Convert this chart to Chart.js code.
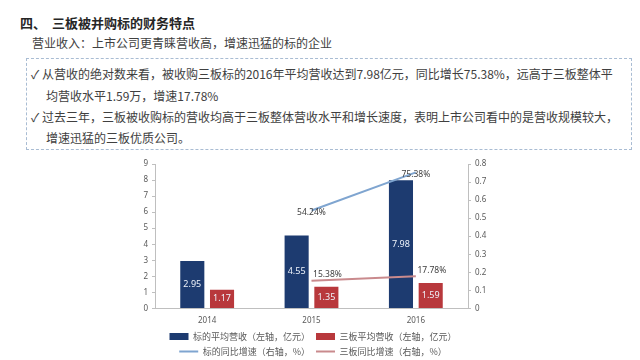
<!DOCTYPE html>
<html>
<head>
<meta charset="utf-8">
<script src="https://cdn.jsdelivr.net/npm/chart.js@4/dist/chart.umd.min.js"></script>
<style>
  body { margin: 0; width: 640px; height: 360px; background: #fff; position: relative; overflow: hidden;
         font-family: "Noto Sans CJK SC", "Noto Sans", sans-serif; }
  .title { position: absolute; left: 20px; top: 13px; font-size: 13px; font-weight: bold; color: #262626; white-space: nowrap; }
  .sub { position: absolute; left: 32px; top: 34px; font-size: 12px; color: #404040; white-space: nowrap; }
  .box { position: absolute; left: 26px; top: 58px; width: 606px; height: 92px; border: 1px dashed #a9bcd3; box-sizing: border-box; }
  .ln { position: absolute; font-size: 12px; color: #404040; white-space: nowrap; }
  #wrap { position: absolute; left: 118px; top: 155px; width: 390px; height: 211px; }
</style>
</head>
<body>
<div class="title">四、&nbsp;&nbsp;三板被并购标的财务特点</div>
<div class="sub">营业收入：上市公司更青睐营收高，增速迅猛的标的企业</div>
<div class="box"></div>
<div class="ln" style="left:31px;top:65px">✓ 从营收的绝对数来看，被收购三板标的2016年平均营收达到7.98亿元，同比增长75.38%，远高于三板整体平</div>
<div class="ln" style="left:46px;top:87px">均营收水平1.59万，增速17.78%</div>
<div class="ln" style="left:31px;top:108px">✓ 过去三年，三板被收购标的营收均高于三板整体营收水平和增长速度，表明上市公司看中的是营收规模较大，</div>
<div class="ln" style="left:46px;top:129px">增速迅猛的三板优质公司。</div>
<div id="wrap"><canvas id="myChart"></canvas></div>
<script>
const years = ["2014", "2015", "2016"];
const targetRevenue = [2.95, 4.55, 7.98];
const boardRevenue = [1.17, 1.35, 1.59];
const targetGrowth = [null, 0.5424, 0.7538];
const boardGrowth = [null, 0.1538, 0.1778];
const leftTicks = ["0", "1", "2", "3", "4", "5", "6", "7", "8", "9"];
const rightTicks = ["0", "0.1", "0.2", "0.3", "0.4", "0.5", "0.6", "0.7", "0.8"];

const valueLabels = {
  id: "valueLabels",
  afterDatasetsDraw(chart) {
    const ctx = chart.ctx;
    ctx.save();
    ctx.textAlign = "center";
    ctx.textBaseline = "middle";
    chart.data.datasets.forEach((ds, i) => {
      const meta = chart.getDatasetMeta(i);
      meta.data.forEach((el, j) => {
        const v = ds.data[j];
        if (v == null) return;
        if (ds.type === "bar") {
          ctx.font = "9px 'Noto Sans'";
          ctx.fillStyle = "#eef3fa";
          ctx.fillText(v.toFixed(2), el.x, (el.y + el.base) / 2);
        } else {
          ctx.font = "8.5px 'Noto Sans'";
          ctx.fillStyle = "#404040";
          ctx.fillText((v * 100).toFixed(2) + "%", el.x + ds.labelDx, el.y + ds.labelDy);
        }
      });
    });
    ctx.restore();
  },
};

const tickFont = { size: 8, family: "'Noto Sans'" };
const ctx = document.getElementById("myChart").getContext("2d");
const myChart = new Chart(ctx, {
  data: {
    labels: years,
    datasets: [
      {
        type: "bar",
        label: "标的平均营收（左轴，亿元）",
        data: targetRevenue,
        backgroundColor: "#1d3b70",
        yAxisID: "y",
        order: 2,
        categoryPercentage: 0.57,
        barPercentage: 0.81,
      },
      {
        type: "bar",
        label: "三板平均营收（左轴，亿元）",
        data: boardRevenue,
        backgroundColor: "#b8383c",
        yAxisID: "y",
        order: 2,
        categoryPercentage: 0.57,
        barPercentage: 0.81,
      },
      {
        type: "line",
        label: "标的同比增速（右轴，%）",
        data: targetGrowth,
        borderColor: "#7fa5d0",
        backgroundColor: "#7fa5d0",
        borderWidth: 2,
        pointRadius: 0,
        yAxisID: "y1",
        order: 1,
        labelDx: 0,
        labelDy: 2,
      },
      {
        type: "line",
        label: "三板同比增速（右轴，%）",
        data: boardGrowth,
        borderColor: "#c98a8d",
        backgroundColor: "#c98a8d",
        borderWidth: 2,
        pointRadius: 0,
        yAxisID: "y1",
        order: 1,
        labelDx: 16,
        labelDy: -6,
      },
    ],
  },
  options: {
    responsive: true,
    maintainAspectRatio: false,
    animation: false,
    layout: { padding: { top: 9, left: 0, right: 0, bottom: 0 } },
    plugins: {
      tooltip: { enabled: false },
      legend: {
        position: "bottom",
        labels: {
          usePointStyle: true,
          pointStyleWidth: 19,
          boxHeight: 7,
          padding: 6,
          color: "#595959",
          font: { size: 9, family: "'Noto Sans CJK SC'" },
          sort: (a, b) => a.datasetIndex - b.datasetIndex,
          generateLabels(chart) {
            const items = Chart.defaults.plugins.legend.labels.generateLabels(chart);
            items.forEach((it) => {
              const ds = chart.data.datasets[it.datasetIndex];
              it.pointStyle = ds.type === "bar" ? "rect" : "line";
              it.lineWidth = ds.type === "bar" ? 0 : 2;
              it.strokeStyle = ds.borderColor || ds.backgroundColor;
            });
            return items;
          },
        },
      },
    },
    scales: {
      x: {
        grid: { display: false },
        border: { color: "#bfbfbf" },
        ticks: { color: "#595959", font: tickFont, padding: 0 },
      },
      y: {
        position: "left",
        min: 0,
        max: 9,
        ticks: { stepSize: 1, color: "#595959", font: tickFont, padding: 4,
                 callback: (v, i) => leftTicks[i] },
        grid: { drawOnChartArea: false, tickLength: 3, color: "#bfbfbf" },
        border: { color: "#bfbfbf" },
        afterFit(scale) { scale.width = 37; },
      },
      y1: {
        position: "right",
        min: 0,
        max: 0.8,
        ticks: { stepSize: 0.1, color: "#595959", font: tickFont, padding: 4,
                 callback: (v, i) => rightTicks[i] },
        grid: { drawOnChartArea: false, tickLength: 3, color: "#bfbfbf" },
        border: { color: "#bfbfbf" },
        afterFit(scale) { scale.width = 40; },
      },
    },
  },
  plugins: [valueLabels],
});
</script>
</body>
</html>
